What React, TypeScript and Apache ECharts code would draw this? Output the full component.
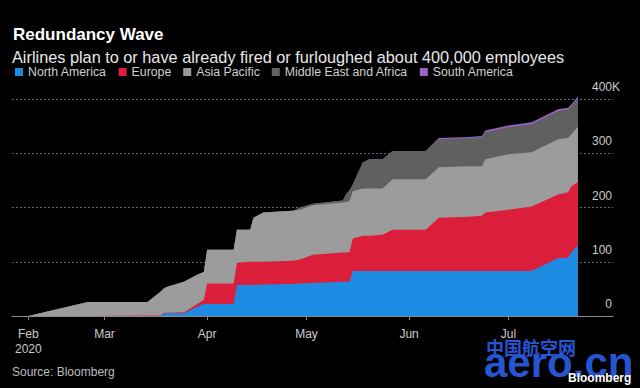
import React, { useEffect, useRef } from "react";
import * as echarts from "echarts";

const dates = [
  "2020-02-02", "2020-02-07", "2020-02-25", "2020-03-14", "2020-03-18",
  "2020-03-19", "2020-03-20", "2020-03-25", "2020-03-29", "2020-03-31",
  "2020-04-01", "2020-04-09", "2020-04-10", "2020-04-14", "2020-04-15",
  "2020-04-18", "2020-04-27", "2020-04-29", "2020-05-03", "2020-05-12",
  "2020-05-13", "2020-05-14", "2020-05-15", "2020-05-18", "2020-05-20",
  "2020-05-24", "2020-05-27", "2020-06-06", "2020-06-10", "2020-06-19",
  "2020-06-23", "2020-06-24", "2020-07-01", "2020-07-08", "2020-07-16",
  "2020-07-19", "2020-07-20", "2020-07-22",
];

const northAmerica = [
  0, 0, 0, 0, 0, 5, 5, 5, 17, 22, 22, 22, 57, 57, 57, 58, 59, 60, 61, 63,
  63, 63, 83, 83, 83, 83, 83, 83, 83, 83, 83, 83, 83, 83, 107, 107, 118, 130,
];
const europe = [
  0, 0, 0, 1, 1, 1, 1, 2, 5, 8, 38, 38, 41, 43, 43, 42, 43, 44, 52, 54,
  54, 55, 60, 65, 65, 67, 76, 76, 98, 100, 102, 108, 113, 119, 117, 121, 121, 117,
];
const asiaPacific = [
  0, 0, 26, 25, 44, 45, 48, 56, 54, 51, 62, 62, 61, 59, 81, 91, 92, 92, 91, 92,
  93, 94, 87, 87, 87, 85, 93, 93, 93, 93, 91, 98, 102, 100, 102, 100, 96, 102,
];
const middleEastAfrica = [
  0, 0, 0, 0, 0, 0, 0, 0, 0, 0, 0, 0, 0, 0, 0, 0, 0, 4, 3, 4,
  15, 20, 13, 48, 54, 54, 52, 52, 52, 52, 54, 50, 50, 52, 52, 53, 52, 53,
];
const southAmerica = [
  0, 0, 0, 0, 0, 0, 0, 0, 0, 0, 0, 0, 0, 0, 0, 0, 0, 0, 0, 0,
  0, 0, 0, 0, 0, 0, 0, 0, 2, 2, 2, 3, 3, 3, 3, 3, 3, 3,
];

const seriesNames = [
  "North America",
  "Europe",
  "Asia Pacific",
  "Middle East and Africa",
  "South America",
];
const seriesColors = ["#1d8be2", "#db1f3b", "#9c9c9c", "#606060", "#9a62cc"];

const xTickDates = ["2020-02-07", "2020-03-01", "2020-04-01", "2020-05-01", "2020-06-01", "2020-07-01"];
const xTickLabels = ["Feb\n2020", "Mar", "Apr", "May", "Jun", "Jul"];
const axisStartDate = "2020-02-01";
const xMinDay = 1.06;
const xMaxDay = 182.58;

const yTicks = [0, 100, 200, 300, 400];

const FONT = '"Liberation Sans", Arial, sans-serif';

function dayIndex(s: string): number {
  const a = Date.UTC(+axisStartDate.slice(0, 4), +axisStartDate.slice(5, 7) - 1, +axisStartDate.slice(8, 10));
  const b = Date.UTC(+s.slice(0, 4), +s.slice(5, 7) - 1, +s.slice(8, 10));
  return Math.round((b - a) / 86400000);
}

export default function App() {
  const ref = useRef<HTMLDivElement>(null);

  useEffect(() => {
    if (!ref.current) return;
    const chart = echarts.init(ref.current, undefined, { renderer: "svg" });
    const allSeries = [northAmerica, europe, asiaPacific, middleEastAfrica, southAmerica];
    const tickDays = xTickDates.map(dayIndex);
    const days = dates.map(dayIndex);

    // Stack layers: each layer's top edge = sum of itself and the layers below it.
    const running = dates.map(() => 0);
    const layers = allSeries.map((vals) =>
      vals.map((v, j) => {
        running[j] += v;
        return running[j];
      })
    );

    const option: any = {
      animation: false,
      backgroundColor: "#000",
      textStyle: { fontFamily: FONT },
      grid: { left: 12, right: 27, top: 99, bottom: 72, containLabel: false },
      legend: {
        left: 15,
        top: 66,
        padding: 0,
        itemWidth: 8,
        itemHeight: 8,
        itemGap: 12,
        icon: "rect",
        data: seriesNames,
        textStyle: { color: "#cfcfcf", fontSize: 12.3, fontFamily: FONT },
        selectedMode: false,
      },
      xAxis: {
        type: "value",
        min: xMinDay,
        max: xMaxDay,
        axisLine: { show: true, onZero: false, lineStyle: { color: "#8a8a8a", width: 1 } },
        axisTick: {
          show: true,
          length: 4,
          lineStyle: { color: "#8a8a8a" },
          customValues: tickDays,
        },
        axisLabel: {
          customValues: tickDays,
          color: "#cccccc",
          fontSize: 12,
          lineHeight: 15,
          margin: 10,
          fontFamily: FONT,
          formatter: (v: number) => {
            const i = tickDays.indexOf(Math.round(v));
            return i >= 0 ? xTickLabels[i] : "";
          },
        },
        splitLine: { show: false },
        z: 20,
      },
      yAxis: {
        type: "value",
        position: "right",
        min: yTicks[0],
        max: yTicks[yTicks.length - 1],
        interval: 100,
        axisLine: { show: false },
        axisTick: { show: false },
        splitLine: { show: true, lineStyle: { color: "#6a6a6a", type: [2, 2], width: 1 } },
        axisLabel: {
          inside: true,
          align: "right",
          verticalAlign: "bottom",
          margin: -7,
          color: "#cccccc",
          fontSize: 12,
          lineHeight: 12,
          padding: [0, 0, 6, 0],
          fontFamily: FONT,
          formatter: (v: number) =>
            v === yTicks[yTicks.length - 1] ? `${v}K` : `${v}{s|K}`,
          rich: {
            s: { color: "rgba(0,0,0,0)", fontSize: 12, fontFamily: FONT, lineHeight: 12 },
          },
        },
      },
      series: seriesNames.map((name, i) => ({
        name,
        type: "line",
        clip: false,
        showSymbol: false,
        symbol: "none",
        z: 10 - i,
        color: seriesColors[i],
        lineStyle: { width: 0 },
        areaStyle: { color: seriesColors[i], opacity: 1 },
        data: days.map((d, j) => [d, layers[i][j]]),
      })),
      graphic: [
        {
          type: "text",
          x: 13,
          y: 34,
          style: {
            text: "Redundancy Wave",
            fill: "#ffffff",
            fontSize: 17,
            fontWeight: "bold",
            fontFamily: FONT,
            verticalAlign: "middle",
          },
        },
        {
          type: "text",
          x: 12,
          y: 56.5,
          style: {
            text: "Airlines plan to or have already fired or furloughed about 400,000 employees",
            fill: "#e8e8e8",
            fontSize: 16.3,
            fontFamily: FONT,
            verticalAlign: "middle",
          },
        },
        {
          type: "text",
          x: 12,
          y: 371.5,
          style: {
            text: "Source: Bloomberg",
            fill: "#bdbdbd",
            fontSize: 12,
            fontFamily: FONT,
            verticalAlign: "middle",
          },
        },
        {
          type: "text",
          x: 486,
          y: 347,
          style: {
            text: "中国航空网",
            fill: "#2655d2",
            fontSize: 18,
            lineHeight: 12,
            fontWeight: "bold",
            fontFamily: '"Noto Sans CJK SC", sans-serif',
            verticalAlign: "middle",
          },
        },
        {
          type: "text",
          x: 484,
          y: 362.5,
          style: {
            text: "aero.cn",
            fill: "#2655d2",
            fontSize: 42,
            lineHeight: 20,
            fontWeight: "bold",
            fontFamily: FONT,
            verticalAlign: "middle",
          },
        },
        {
          type: "text",
          x: 568,
          y: 377.5,
          style: {
            text: "Bloomberg",
            fill: "#ffffff",
            fontSize: 12,
            lineHeight: 9,
            fontWeight: "bold",
            fontFamily: FONT,
            verticalAlign: "middle",
          },
        },
      ],
    };

    chart.setOption(option);
    return () => chart.dispose();
  }, []);

  return (
    <div
      ref={ref}
      style={{ position: "fixed", left: 0, top: 0, width: 640, height: 388, background: "#000" }}
    />
  );
}
